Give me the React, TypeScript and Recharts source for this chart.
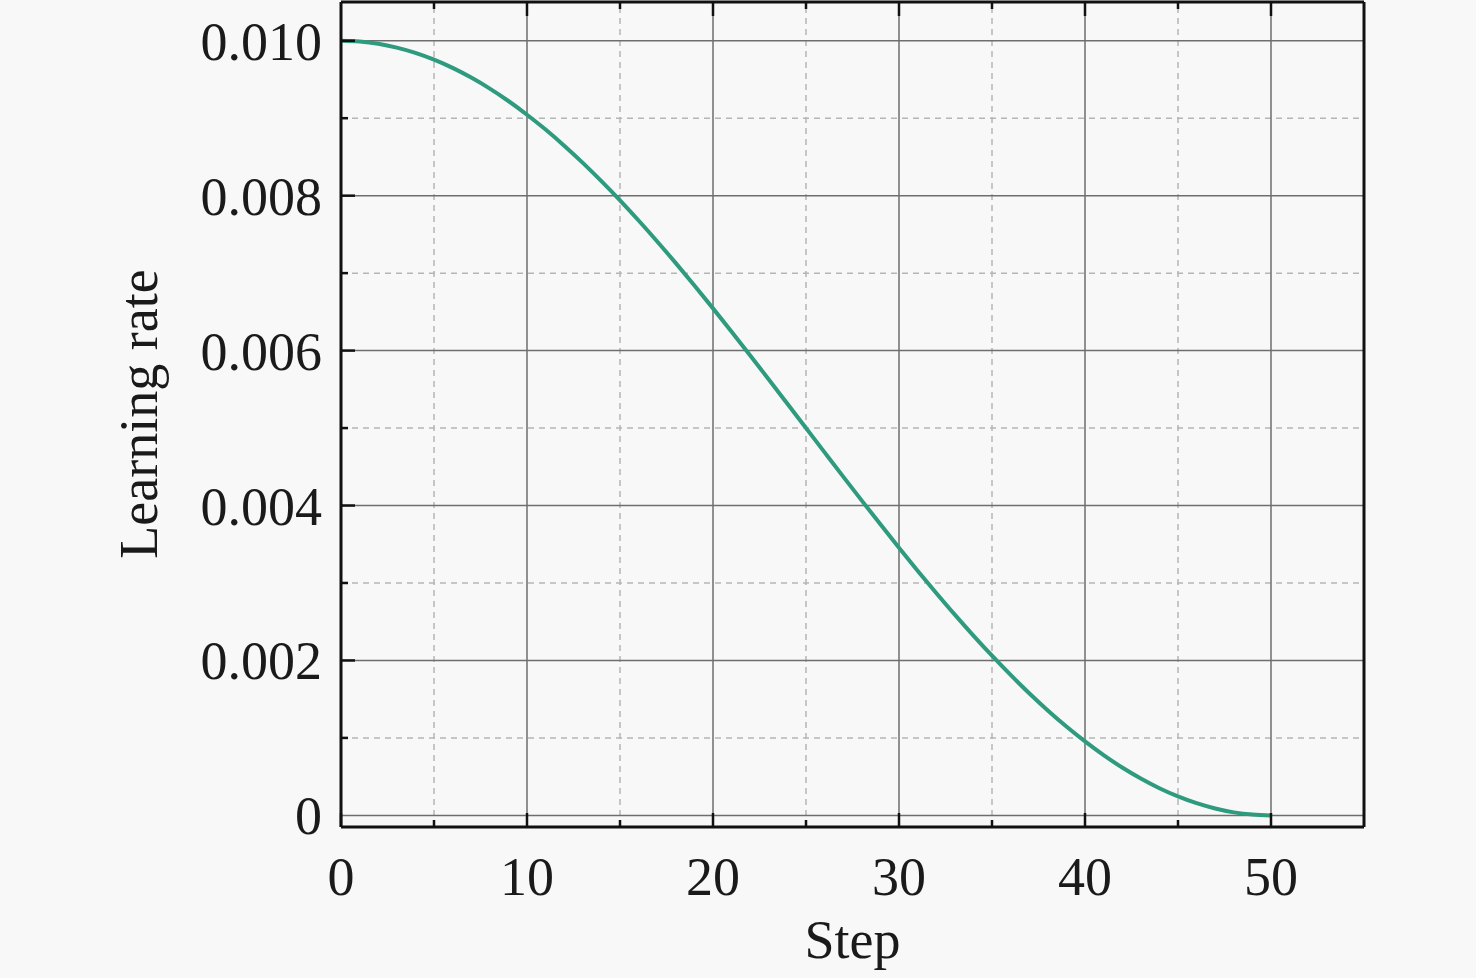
import { LineChart, Line, XAxis, YAxis, ReferenceLine } from "recharts";

// step index and the learning rate
const steps = [
  0, 1, 2, 3, 4, 5, 6, 7, 8, 9, 10, 11, 12, 13, 14, 15, 16, 17, 18, 19, 20, 21, 22, 23, 24, 25,
  26, 27, 28, 29, 30, 31, 32, 33, 34, 35, 36, 37, 38, 39, 40, 41, 42, 43, 44, 45, 46, 47, 48, 49, 50,
];
const learningRate = [
  0.01, 0.00999, 0.009961, 0.009911, 0.009843, 0.009755, 0.009649, 0.009524, 0.009382, 0.009222,
  0.009045, 0.008853, 0.008645, 0.008423, 0.008187, 0.007939, 0.007679, 0.007409, 0.007129, 0.006841,
  0.006545, 0.006243, 0.005937, 0.005627, 0.005314, 0.005, 0.004686, 0.004373, 0.004063, 0.003757,
  0.003455, 0.003159, 0.002871, 0.002591, 0.002321, 0.002061, 0.001813, 0.001577, 0.001355, 0.001147,
  0.000955, 0.000778, 0.000618, 0.000476, 0.000351, 0.000245, 0.000157, 0.000089, 0.000039, 0.00001, 0,
];

const xMajor = [0, 10, 20, 30, 40, 50];
const xMinor = [5, 15, 25, 35, 45];
const xAllTicks = [0, 5, 10, 15, 20, 25, 30, 35, 40, 45, 50, 55];
const yMajor = [0, 0.002, 0.004, 0.006, 0.008, 0.01];
const yMinor = [0.001, 0.003, 0.005, 0.007, 0.009];
const yAllTicks = [0, 0.001, 0.002, 0.003, 0.004, 0.005, 0.006, 0.007, 0.008, 0.009, 0.01];
const yLabels: Record<string, string> = {
  "0": "0",
  "0.002": "0.002",
  "0.004": "0.004",
  "0.006": "0.006",
  "0.008": "0.008",
  "0.01": "0.010",
};

const data = steps.map((s, i) => ({ step: s, lr: learningRate[i] }));

const FONT = '"Liberation Serif", "Times New Roman", serif';
const FS = 54;
const MAJOR_LEN = 14;
const MINOR_LEN = 7;

const isMajorX = (v: number) => xMajor.includes(v);
const isMajorY = (v: number) => yMajor.some((m) => Math.abs(m - v) < 1e-9);

const BottomTick = (props: any) => {
  const { x, y, payload } = props;
  const v = payload.value;
  const axisY = y - 30;
  const len = isMajorX(v) ? MAJOR_LEN : MINOR_LEN;
  if (v >= 55) return <g />;
  return (
    <g>
      <line x1={x} x2={x} y1={axisY} y2={axisY - len} stroke="#111" strokeWidth={2.5} />
      {isMajorX(v) && (
        <text x={x} y={axisY + 68} textAnchor="middle" fontFamily={FONT} fontSize={FS} fill="#1a1a1a">
          {v}
        </text>
      )}
    </g>
  );
};

const TopTick = (props: any) => {
  const { x, y, payload } = props;
  const v = payload.value;
  if (v <= 0 || v >= 55) return <g />;
  const len = isMajorX(v) ? MAJOR_LEN : MINOR_LEN;
  return <line x1={x} x2={x} y1={y} y2={y + len} stroke="#111" strokeWidth={2.5} />;
};

const LeftTick = (props: any) => {
  const { x, y, payload } = props;
  const v = payload.value;
  const axisX = x + 19;
  const major = isMajorY(v);
  const len = major ? MAJOR_LEN : MINOR_LEN;
  const key = String(Math.round(v * 1000) / 1000);
  return (
    <g>
      {v > 0 && <line x1={axisX} x2={axisX + len} y1={y} y2={y} stroke="#111" strokeWidth={2.5} />}
      {major && (
        <text x={x} y={y + 19} textAnchor="end" fontFamily={FONT} fontSize={FS} fill="#1a1a1a">
          {yLabels[key]}
        </text>
      )}
    </g>
  );
};

const RightTick = (props: any) => {
  const { x, y, payload } = props;
  const v = payload.value;
  const len = isMajorY(v) ? MAJOR_LEN : MINOR_LEN;
  return <line x1={x} x2={x - len} y1={y} y2={y} stroke="#111" strokeWidth={2.5} />;
};

export default function App() {
  return (
    <div
      style={{
        position: "absolute",
        left: 0,
        top: 0,
        width: 1476,
        height: 978,
        background: "#f8f8f8",
      }}
    >
      <LineChart width={1476} height={978} data={data} margin={{ top: 0, right: 0, bottom: 0, left: 0 }}>
        <XAxis
          dataKey="step"
          type="number"
          domain={[0, 55]}
          ticks={xAllTicks}
          interval={0}
          height={151}
          tickSize={0}
          tickMargin={30}
          tickLine={false}
          tick={<BottomTick />}
          axisLine={{ stroke: "#111", strokeWidth: 3 }}
          label={{ value: "Step", position: "insideBottom", offset: 20, fontFamily: FONT, fontSize: FS, fill: "#1a1a1a" }}
        />
        <XAxis
          xAxisId="top"
          orientation="top"
          dataKey="step"
          type="number"
          domain={[0, 55]}
          ticks={xAllTicks}
          interval={0}
          height={2}
          tickSize={0}
          tickMargin={0}
          tickLine={false}
          tick={<TopTick />}
          axisLine={{ stroke: "#111", strokeWidth: 3 }}
        />
        <YAxis
          type="number"
          domain={[-0.00015, 0.0105]}
          ticks={yAllTicks}
          interval={0}
          width={341}
          tickSize={0}
          tickMargin={19}
          tickLine={false}
          tick={<LeftTick />}
          axisLine={{ stroke: "#111", strokeWidth: 3 }}
          label={{
            content: () => (
              <text
                x={157}
                y={414}
                transform="rotate(-90 157 414)"
                textAnchor="middle"
                fontFamily={FONT}
                fontSize={FS}
                fill="#1a1a1a"
              >
                Learning rate
              </text>
            ),
          }}
        />
        <YAxis
          yAxisId="right"
          orientation="right"
          type="number"
          domain={[-0.00015, 0.0105]}
          ticks={yAllTicks}
          interval={0}
          width={112}
          tickSize={0}
          tickMargin={0}
          tickLine={false}
          tick={<RightTick />}
          axisLine={{ stroke: "#111", strokeWidth: 3 }}
        />
        {yMinor.map((v) => (
          <ReferenceLine key={`ym${v}`} y={v} stroke="#b5b5b5" strokeWidth={1.5} strokeDasharray="6 5" />
        ))}
        {xMinor.map((v) => (
          <ReferenceLine key={`xm${v}`} x={v} stroke="#b5b5b5" strokeWidth={1.5} strokeDasharray="6 5" />
        ))}
        {yMajor.map((v) => (
          <ReferenceLine key={`yM${v}`} y={v} stroke="#6e6e6e" strokeWidth={1.5} />
        ))}
        {xMajor
          .filter((v) => v > 0)
          .map((v) => (
            <ReferenceLine key={`xM${v}`} x={v} stroke="#6e6e6e" strokeWidth={1.5} />
          ))}
        <Line
          type="monotone"
          dataKey="lr"
          stroke="#2e9a7e"
          strokeWidth={4}
          dot={false}
          isAnimationActive={false}
        />
      </LineChart>
    </div>
  );
}
